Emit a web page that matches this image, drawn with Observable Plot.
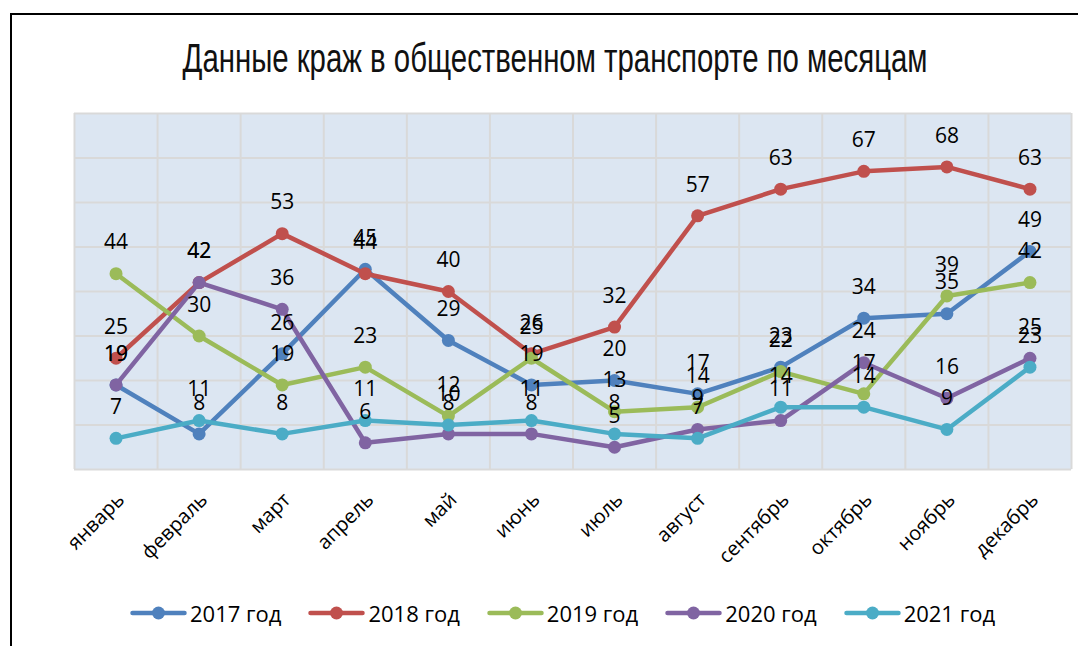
<!DOCTYPE html>
<html>
<head>
<meta charset="utf-8">
<script src="https://cdn.jsdelivr.net/npm/d3@7"></script>
<script src="https://cdn.jsdelivr.net/npm/@observablehq/plot@0.6"></script>
<style>
  html, body { margin: 0; padding: 0; background: #fff; }
  #wrap { position: relative; width: 1088px; height: 646px; overflow: hidden; }
  #frame { position: absolute; left: 10px; top: 13px; width: 1068px; height: 700px;
           border-top: 2px solid #000; border-left: 2px solid #000; pointer-events: none; box-sizing: border-box; }
  #title { position: relative; height: 100px; }
  #title span { position: absolute; left: 555px; top: 38px; white-space: nowrap;
                font-family: "Liberation Sans", Arial, sans-serif;
                font-size: 40px; line-height: 40px; color: #111; font-weight: 400;
                transform-origin: center center; }
  #chart svg { display: block; }
  #legend { height: 66px; display: flex; align-items: center; padding-left: 130px; gap: 27px; box-sizing: border-box; }
  .item { display: flex; align-items: center; font-family: "Open Sans", sans-serif; font-size: 22px; color: #000; }
  .item svg { margin-right: 3px; }
</style>
</head>
<body>
<div id="wrap">
  <div id="title"><span id="tt">Данные краж в общественном транспорте по месяцам</span></div>
  <div id="chart"></div>
  <div id="legend"></div>
  <div id="frame"></div>
</div>
<script>
const months = ["январь", "февраль", "март", "апрель", "май", "июнь", "июль", "август", "сентябрь", "октябрь", "ноябрь", "декабрь"];
const years = ["2017 год", "2018 год", "2019 год", "2020 год", "2021 год"];
const colors = ["#4f81bd", "#c0504d", "#9bbb59", "#8064a2", "#4bacc6"];
const v2017 = [19, 8, 26, 45, 29, 19, 20, 17, 23, 34, 35, 49];
const v2018 = [25, 42, 53, 44, 40, 26, 32, 57, 63, 67, 68, 63];
const v2019 = [44, 30, 19, 23, 12, 25, 13, 14, 22, 17, 39, 42];
const v2020 = [19, 42, 36, 6, 8, 8, 5, 9, 11, 24, 16, 25];
const v2021 = [7, 11, 8, 11, 10, 11, 8, 7, 14, 14, 9, 23];
const yTicks = [0, 10, 20, 30, 40, 50, 60, 70, 80];

const seriesValues = [v2017, v2018, v2019, v2020, v2021];
const data = years.flatMap((yr, s) => seriesValues[s].map((v, i) => ({year: yr, month: i, pos: i + 0.5, value: v})));
const bandEdges = d3.range(months.length + 1);
const centers = d3.range(months.length).map(i => i + 0.5);

const seriesMarks = years.flatMap(yr => {
  const d = data.filter(r => r.year === yr);
  return [
    Plot.line(d, {x: "pos", y: "value", stroke: "year", strokeWidth: 4.5, strokeLinejoin: "round", strokeLinecap: "round"}),
    Plot.dot(d, {x: "pos", y: "value", fill: "year", r: 6.5, stroke: "none"})
  ];
});

const chart = Plot.plot({
  width: 1088,
  height: 480,
  marginTop: 13,
  marginBottom: 111,
  marginLeft: 74,
  marginRight: 17,
  style: {fontFamily: "Open Sans, sans-serif", fontSize: "20px", color: "#000", background: "transparent"},
  x: {type: "linear", domain: [0, months.length], axis: null},
  y: {domain: [0, 80], axis: null},
  color: {domain: years, range: colors},
  marks: [
    Plot.frame({fill: "#dce6f2"}),
    Plot.ruleX(bandEdges, {stroke: "#d9d9d9", strokeWidth: 2}),
    Plot.ruleY(yTicks, {stroke: "#d9d9d9", strokeWidth: 2}),
    Plot.axisX(centers, {
      tickFormat: d => months[Math.floor(d)],
      tickRotate: -45, tickSize: 0, tickPadding: 27, textAnchor: "end",
      fontSize: 20, fill: "#000", label: null, dx: 5
    }),
    ...seriesMarks,
    Plot.text(data, {x: "pos", y: "value", text: d => String(d.value), dy: -31, fontSize: 21, fill: "#000"})
  ]
});
document.getElementById("chart").appendChild(chart);

// legend
const leg = document.getElementById("legend");
years.forEach((yr, i) => {
  const it = document.createElement("div");
  it.className = "item";
  it.innerHTML = `<svg width="57" height="20"><line x1="2.5" x2="54.5" y1="10" y2="10" stroke="${colors[i]}" stroke-width="4.5" stroke-linecap="round"/><circle cx="28.5" cy="10" r="6.5" fill="${colors[i]}"/></svg><span>${yr}</span>`;
  leg.appendChild(it);
});

// fit title width (narrow face)
const tt = document.getElementById("tt");
const w = tt.getBoundingClientRect().width;
const target = 745;
tt.style.transform = `translateX(-50%) scaleX(${target / w})`;
</script>
</body>
</html>
